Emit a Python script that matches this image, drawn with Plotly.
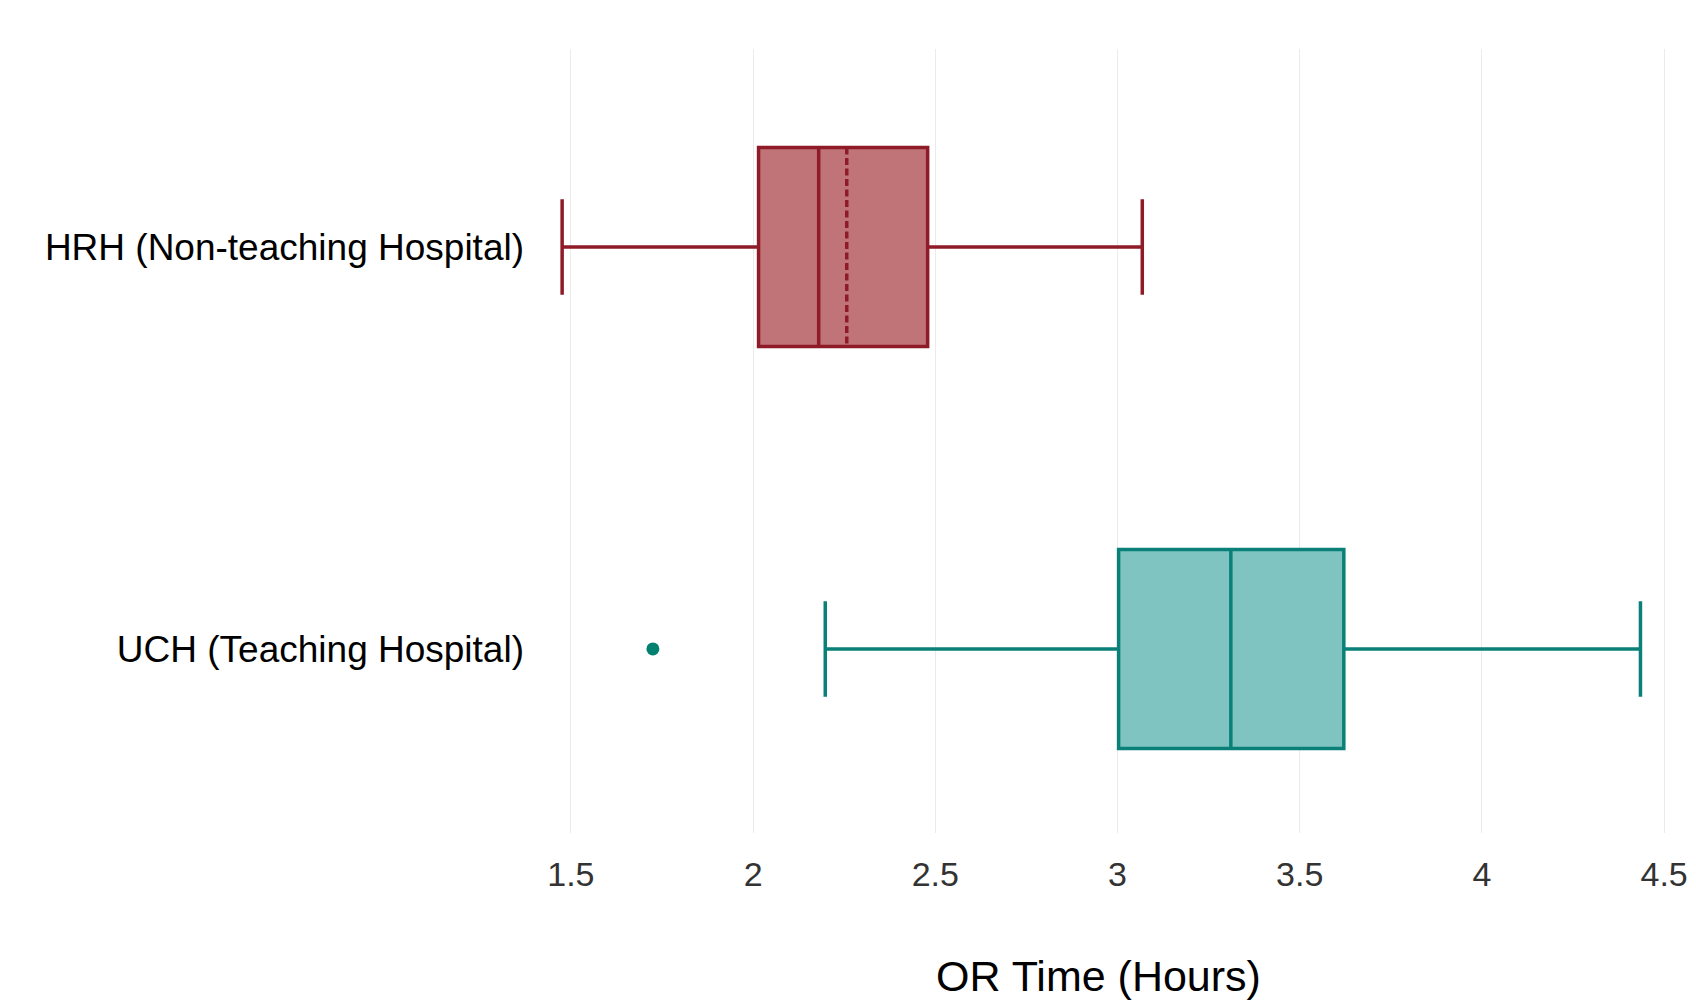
import plotly.graph_objects as go

# Data
categories = ["HRH (Non-teaching Hospital)", "UCH (Teaching Hospital)"]
lower_whisker = [1.476, 2.198]
q1 = [2.015, 3.003]
median = [2.180, 3.311]
mean = [2.257, 3.311]
q3 = [2.479, 3.621]
upper_whisker = [3.068, 4.435]
outlier_x = [1.725]
outlier_cat = ["UCH (Teaching Hospital)"]
x_title = "OR Time (Hours)"

line_colors = ["#8e1b27", "#0a8078"]
fill_colors = ["rgba(192,116,120,1)", "rgba(127,196,192,1)"]
x_ticks = [1.5, 2, 2.5, 3, 3.5, 4, 4.5]
x_ticktext = ["1.5", "2", "2.5", "3", "3.5", "4", "4.5"]

fig = go.Figure()
for i, cat in enumerate(categories):
    fig.add_trace(go.Box(
        y=[cat], orientation="h",
        q1=[q1[i]], median=[median[i]], q3=[q3[i]],
        lowerfence=[lower_whisker[i]], upperfence=[upper_whisker[i]],
        mean=[mean[i]], boxmean=(i == 0),
        fillcolor=fill_colors[i],
        line=dict(color=line_colors[i], width=3.5),
        width=0.495,
        whiskerwidth=0.48,
        showlegend=False, name=cat,
    ))

fig.add_trace(go.Scatter(
    x=outlier_x, y=outlier_cat, mode="markers",
    marker=dict(color="#00806e", size=13),
    showlegend=False,
))

fig.update_layout(
    width=1696, height=1004,
    margin=dict(l=533, r=18, t=41, b=179),
    paper_bgcolor="white", plot_bgcolor="white",
    boxmode="overlay",
    font=dict(family="Liberation Sans, Arial, sans-serif", color="black"),
)
fig.add_annotation(
    text=x_title, xref="paper", yref="paper",
    x=0.487, y=-0.183, xanchor="center", yanchor="middle",
    showarrow=False, font=dict(size=43, color="black"),
)
fig.update_xaxes(
    automargin=False,
    range=[1.418, 4.56],
    tickvals=x_ticks, ticktext=x_ticktext,
    tickfont=dict(size=34, color="#333333"),
    showgrid=True, gridcolor="#ebebeb", gridwidth=1,
    zeroline=False, showline=False,
    ticks="", ticklabelstandoff=18,
)
fig.update_yaxes(
    automargin=False,
    type="category", categoryarray=categories, categoryorder="array",
    range=[1.458, -0.4925],
    showgrid=False, zeroline=False, showline=False,
    ticks="", ticklabelstandoff=16,
    tickfont=dict(size=37),
)

fig.write_html("out.html")
